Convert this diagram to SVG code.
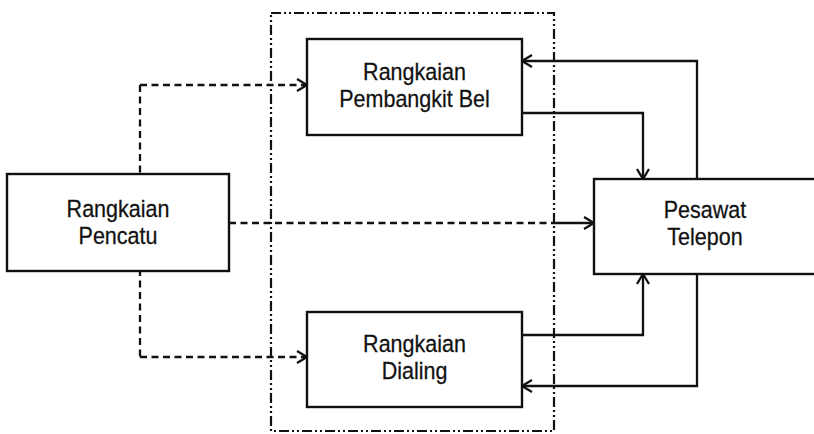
<svg xmlns="http://www.w3.org/2000/svg" width="814" height="434" viewBox="0 0 814 434">
<style>
.box{fill:#fff;stroke:#111;stroke-width:2.4}
.lbl{font-family:"Liberation Sans",Arial,sans-serif;font-size:21.5px;fill:#111;stroke:#111;stroke-width:0.25;text-anchor:middle}
.solid{fill:none;stroke:#111;stroke-width:2.3}
.dash{fill:none;stroke:#111;stroke-width:2.3;stroke-dasharray:7 4.5}
.frame{fill:none;stroke:#111;stroke-width:2.2;stroke-dasharray:10 3 2 3 2 3}
</style>
<defs>
<marker id="arr" markerUnits="userSpaceOnUse" markerWidth="16" markerHeight="16" refX="12" refY="8" orient="auto">
<path d="M2,2 L12,8 L2,14" fill="none" stroke="#111" stroke-width="2.3"/>
</marker>
</defs>
<rect width="814" height="434" fill="#fff"/>
<g id="connectors">
<path class="dash" d="M140,85 V357"/>
<path class="dash" d="M140,85 H307" marker-end="url(#arr)"/>
<path class="dash" d="M140,357 H307" marker-end="url(#arr)"/>
<path class="dash" d="M229,223 H553"/>
<path class="solid" d="M553,223 H594" marker-end="url(#arr)"/>
<path class="solid" d="M697,179 V61 H522" marker-end="url(#arr)"/>
<path class="solid" d="M522,113 H643 V179" marker-end="url(#arr)"/>
<path class="solid" d="M522,335 H643 V274" marker-end="url(#arr)"/>
<path class="solid" d="M697,274 V386 H522" marker-end="url(#arr)"/>
</g>
<g id="node-pencatu">
<rect class="box" x="7" y="174" width="222" height="97"/>
<text class="lbl" transform="translate(118,217) scale(1,1.1)">Rangkaian</text>
<text class="lbl" transform="translate(118,244) scale(1,1.1)">Pencatu</text>
</g>
<g id="node-pembangkit">
<rect class="box" x="307" y="39" width="215" height="96"/>
<text class="lbl" transform="translate(414.5,80) scale(1,1.1)">Rangkaian</text>
<text class="lbl" transform="translate(414.5,107) scale(1,1.1)">Pembangkit Bel</text>
</g>
<g id="node-dialing">
<rect class="box" x="307" y="312" width="215" height="95"/>
<text class="lbl" transform="translate(414.5,352) scale(1,1.1)">Rangkaian</text>
<text class="lbl" transform="translate(414.5,379) scale(1,1.1)">Dialing</text>
</g>
<g id="node-telepon">
<rect class="box" x="594" y="179" width="225" height="95"/>
<text class="lbl" transform="translate(705,218) scale(1,1.1)">Pesawat</text>
<text class="lbl" transform="translate(705,245) scale(1,1.1)">Telepon</text>
</g>
<g id="frame">
<rect class="frame" x="271" y="13" width="283" height="418"/>
</g>
</svg>
